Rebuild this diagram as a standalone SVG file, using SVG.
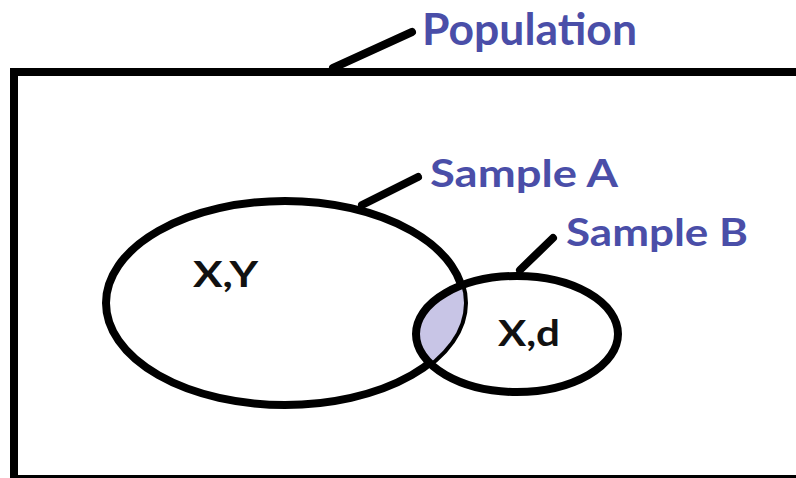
<svg xmlns="http://www.w3.org/2000/svg" width="796" height="478" viewBox="0 0 796 478">
<style>
.ln{fill:none;stroke:#000;stroke-width:8;stroke-linecap:round}
.lbl{font-family:Lato,"Open Sans","Liberation Sans",sans-serif;font-weight:bold;fill:#4a4ea8}
.in{font-family:Lato,"Open Sans","Liberation Sans",sans-serif;font-weight:bold;fill:#111}
</style>
<defs>
<clipPath id="clipA"><ellipse cx="285" cy="303" rx="179" ry="102"/></clipPath>
</defs>
<rect width="796" height="478" fill="#fff"/>
<g id="population">
<path d="M806 72 H14 V479 H806" fill="none" stroke="#000" stroke-width="8"/>
<text class="lbl" x="422" y="45" font-size="44" textLength="215" lengthAdjust="spacingAndGlyphs">Population</text>
</g>
<g id="sampleA">
<ellipse cx="285" cy="303" rx="179" ry="102" fill="none" stroke="#000" stroke-width="8"/>
<text class="lbl" x="430" y="187" font-size="38" textLength="188" lengthAdjust="spacingAndGlyphs">Sample A</text>
<text class="in" x="193" y="287" font-size="37" textLength="65" lengthAdjust="spacingAndGlyphs">X,Y</text>
</g>
<g id="sampleB">
<ellipse cx="517" cy="334" rx="101" ry="58" fill="#c8c5e6" clip-path="url(#clipA)"/>
<ellipse cx="517" cy="334" rx="101" ry="58" fill="none" stroke="#000" stroke-width="8"/>
<text class="lbl" x="566" y="246" font-size="38" textLength="182" lengthAdjust="spacingAndGlyphs">Sample B</text>
<text class="in" x="498" y="346" font-size="37" textLength="62" lengthAdjust="spacingAndGlyphs">X,d</text>
</g>
<g id="connectors">
<line class="ln" x1="333" y1="68" x2="412" y2="32"/>
<line class="ln" x1="362" y1="205" x2="418" y2="177"/>
<line class="ln" x1="520" y1="270" x2="553" y2="238"/>
</g>
</svg>
